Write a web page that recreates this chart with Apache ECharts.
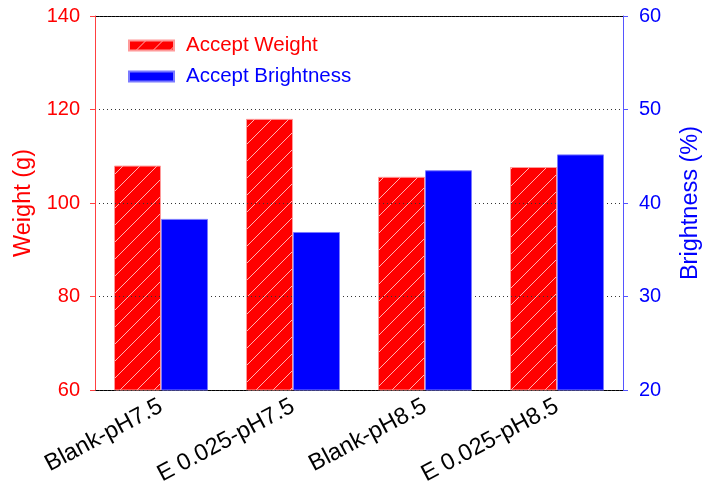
<!DOCTYPE html>
<html>
<head>
<meta charset="utf-8">
<script src="https://cdn.jsdelivr.net/npm/echarts@6/dist/echarts.min.js"></script>
<style>
  html, body { margin: 0; padding: 0; background: #fff; }
  #chart { width: 711px; height: 501px; }
</style>
</head>
<body>
<div id="chart"></div>
<script>
const categories = ['Blank-pH7.5', 'E 0.025-pH7.5', 'Blank-pH8.5', 'E 0.025-pH8.5'];
const weightValues = [108.0, 118.0, 105.6, 107.7];
const brightnessValues = [38.3, 36.9, 43.5, 45.2];
const weightTicks = { min: 60, max: 140, interval: 20 };
const brightnessTicks = { min: 20, max: 60, interval: 10 };

const FONT = "'Liberation Sans', Arial, sans-serif";

// Red fill with thin white diagonal hatching
function hatchPattern() {
  const s = 17;
  const c = document.createElement('canvas');
  c.width = s; c.height = s;
  const g = c.getContext('2d');
  g.fillStyle = '#ff0000';
  g.fillRect(0, 0, s, s);
  g.strokeStyle = 'rgba(255,255,255,0.7)';
  g.lineWidth = 1;
  g.beginPath();
  g.moveTo(-1, s + 1); g.lineTo(s + 1, -1);
  g.moveTo(-1, 1); g.lineTo(1, -1);
  g.moveTo(s - 1, s + 1); g.lineTo(s + 1, s - 1);
  g.stroke();
  return c;
}

const chart = echarts.init(document.getElementById('chart'), null, { renderer: 'canvas' });

chart.setOption({
  animation: false,
  backgroundColor: '#ffffff',
  grid: { left: 95, right: 79, top: 16, bottom: 111, containLabel: false },
  legend: {
    orient: 'vertical',
    left: 128,
    top: 34,
    padding: 0,
    icon: 'rect',
    itemWidth: 45,
    itemHeight: 10,
    itemGap: 8,
    selectedMode: false,
    textStyle: { fontFamily: FONT, fontSize: 20.5, lineHeight: 23, padding: [0, 0, 0, 7] },
    data: [
      { name: 'Accept Weight', textStyle: { color: '#ff0000' } },
      { name: 'Accept Brightness', textStyle: { color: '#0000ff' } }
    ]
  },
  xAxis: [
    {
      type: 'category',
      data: categories,
      position: 'bottom',
      axisLine: { lineStyle: { color: '#000000', width: 1 } },
      axisTick: { alignWithLabel: true, length: 7, lineStyle: { color: '#777777' } },
      axisLabel: {
        rotate: 28,
        margin: 15,
        color: '#000000',
        fontFamily: FONT,
        fontSize: 23.5
      },
      splitLine: { show: false }
    },
    {
      type: 'category',
      data: categories,
      position: 'top',
      axisLine: { lineStyle: { color: '#000000', width: 1 } },
      axisTick: { show: false },
      axisLabel: { show: false },
      splitLine: { show: false }
    }
  ],
  yAxis: [
    {
      type: 'value',
      position: 'left',
      min: weightTicks.min,
      max: weightTicks.max,
      interval: weightTicks.interval,
      z: 2,
      name: 'Weight (g)',
      nameLocation: 'middle',
      nameRotate: 90,
      nameGap: 58,
      nameTextStyle: { color: '#ff0000', fontFamily: FONT, fontSize: 23.5 },
      axisLine: { show: true, lineStyle: { color: '#ff4040', width: 1 } },
      axisTick: { show: true, length: 5, lineStyle: { color: '#ff4040' } },
      axisLabel: { margin: 15, color: '#ff0000', fontFamily: FONT, fontSize: 20 },
      splitLine: { show: true, lineStyle: { color: '#333333', type: [1, 3], width: 1 } }
    },
    {
      type: 'value',
      position: 'right',
      min: brightnessTicks.min,
      max: brightnessTicks.max,
      interval: brightnessTicks.interval,
      name: 'Brightness (%)',
      nameLocation: 'middle',
      nameRotate: 90,
      nameGap: 56,
      nameTextStyle: { color: '#0000ff', fontFamily: FONT, fontSize: 23.5 },
      axisLine: { show: true, lineStyle: { color: '#5555ff', width: 1 } },
      axisTick: { show: true, length: 5, lineStyle: { color: '#5555ff' } },
      axisLabel: { margin: 16, color: '#0000ff', fontFamily: FONT, fontSize: 20 },
      splitLine: { show: false }
    }
  ],
  series: [
    {
      name: 'Accept Weight',
      type: 'bar',
      xAxisIndex: 0,
      yAxisIndex: 0,
      data: weightValues,
      barWidth: 47,
      barGap: '0%',
      z: 1,
      itemStyle: {
        color: { image: hatchPattern(), repeat: 'repeat' },
        borderColor: '#ff9a9a',
        borderWidth: 1
      }
    },
    {
      name: 'Accept Brightness',
      type: 'bar',
      xAxisIndex: 0,
      yAxisIndex: 1,
      data: brightnessValues,
      barWidth: 47,
      barGap: '0%',
      z: 3,
      itemStyle: {
        color: '#0000ff',
        borderColor: '#7a7aff',
        borderWidth: 1
      }
    }
  ]
});
</script>
</body>
</html>
